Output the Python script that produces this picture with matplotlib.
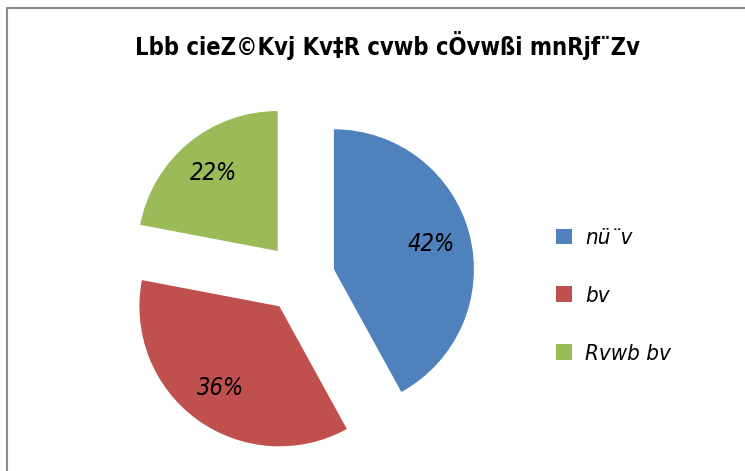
import matplotlib.pyplot as plt
from matplotlib.patches import Rectangle

plt.rcParams['font.family'] = ['DejaVu Sans']
plt.rcParams['font.stretch'] = 'condensed'

title = "Lbb cieZ©Kvj Kv‡R cvwb cÖvwßi mnRjf¨Zv"
labels = ["nü¨v", "bv", "Rvwb bv"]
values = [42, 36, 22]
colors = ["#4F81BD", "#C0504D", "#9BBB59"]

fig = plt.figure(figsize=(7.45, 4.71), dpi=100)

# pie axes: 1 data unit = 140 px
W, H = 745, 471
cx, cy, r = 300, 278, 140
half = 1.6 * r
ax = fig.add_axes([(cx - half) / W, (H - cy - half) / H, 2 * half / W, 2 * half / H])

wedges, texts, autotexts = ax.pie(values, colors=colors, startangle=90, counterclock=False,
                                  explode=[0.25, 0.25, 0.25], autopct='%d%%', pctdistance=0.72,
                                  textprops={'fontsize': 17, 'style': 'italic', 'color': 'black'})
ax.set_xlim(-1.6, 1.6)
ax.set_ylim(-1.6, 1.6)
ax.set_aspect('equal')
ax.axis('off')

fig.text(388 / W, 1 - 46 / H, title, ha='center', va='center', fontsize=17, fontweight='bold')

fig.legend(wedges, labels, loc='center left', bbox_to_anchor=(536 / W, 1 - 296 / H),
           frameon=False, prop={'style': 'italic', 'size': 16},
           handlelength=0.7, handleheight=0.7, handletextpad=0.6, labelspacing=1.7)

fig.patches.append(Rectangle((7 / W, -0.1), 1.2, 1 - 8 / H + 0.1, transform=fig.transFigure,
                             fill=False, edgecolor='#8c8c8c', linewidth=1.5))

fig.savefig("out.png", dpi=100)
